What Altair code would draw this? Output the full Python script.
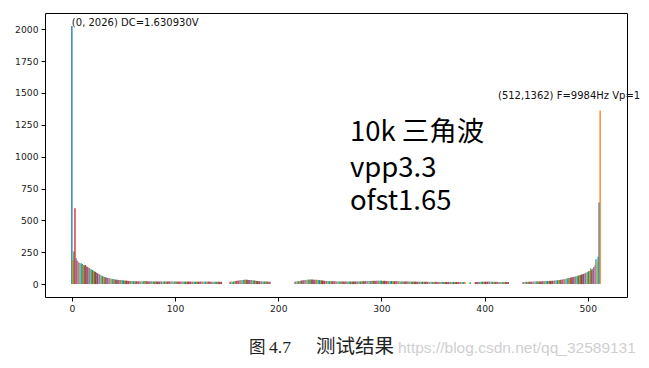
import altair as alt
import pandas as pd

TAB10 = ["#1f77b4", "#ff7f0e", "#2ca02c", "#d62728", "#9467bd",
         "#8c564b", "#e377c2", "#7f7f7f", "#bcbd22", "#17becf"]

# ---- spectrum values (bin index segments; gaps are bins not drawn) ----
seg_a_start = 0
seg_a = [2026, 190, 255, 595, 205, 185, 175, 168, 160, 165,
         158, 150, 148, 150, 140, 135, 130, 126, 120, 115,
         110, 104, 100, 95, 88, 84, 80, 75, 70, 66,
         62, 58, 55, 52, 50, 48, 46, 44, 42, 40,
         39, 37, 36, 35, 34, 33, 32, 32, 31, 30,
         29, 28, 27, 27, 26, 25, 25, 24, 24, 23,
         23, 22, 22, 23, 21, 22, 21, 20, 22, 21,
         24, 22, 25, 21, 22, 20, 21, 23, 20, 21,
         20, 22, 21, 19, 21, 20, 22, 20, 19, 21,
         20, 21, 19, 20, 22, 20, 19, 21, 20, 19,
         21, 20, 19, 20, 18, 20, 21, 19, 20, 19,
         20, 18, 19, 21, 19, 20, 18, 19, 20, 18,
         19, 20, 18, 19, 18, 20, 19, 18, 19, 20,
         18, 19, 18, 20, 19, 18, 19, 17, 18, 19,
         18, 17, 19, 18, 17, 18]

seg_b_start = 153
seg_b = [18, 19, 20, 19, 21, 22, 24, 26, 27, 29,
         30, 31, 32, 33, 34, 35, 34, 35, 33, 32,
         31, 32, 30, 29, 28, 27, 25, 24, 23, 22,
         22, 21, 21, 20, 20, 19, 20, 19, 18, 19]

seg_c_start = 216
seg_c = [19, 20, 21, 22, 23, 25, 26, 28, 30, 31,
         32, 33, 35, 34, 36, 35, 37, 36, 35, 34,
         35, 33, 34, 32, 31, 30, 29, 28, 27, 26,
         25, 25, 24, 24, 23, 23, 22, 22, 21, 22,
         21, 21, 20, 21, 20, 20, 21, 20, 19, 20,
         20, 19, 20, 21, 20, 19, 20, 20, 21, 20,
         21, 20, 21, 22, 21, 22, 23, 22, 23, 24,
         23, 24, 25, 24, 25, 26, 25, 26, 25, 26,
         27, 26, 27, 26, 27, 26, 25, 26, 25, 24,
         25, 24, 24, 23, 24, 23, 22, 23, 22, 22,
         21, 22, 21, 21, 20, 21, 20, 20, 21, 20,
         20, 19, 20, 19, 20, 19, 19, 20, 19, 18,
         19, 18, 19, 18, 19, 18, 18, 19, 18, 17,
         18, 17, 18, 18, 17, 18, 17, 18, 17, 17,
         18, 17, 17, 18, 17, 16, 17, 17, 16, 17,
         17, 16, 17, 16, 17, 16, 16, 17, 16, 16,
         17, 16, 16, 17, 16, 16]

seg_d_start = 386
seg_d = [15]

seg_e_start = 391
seg_e = [16, 17, 16, 18, 17, 18, 19, 18, 19, 18,
         19, 18, 19, 20, 19, 18, 19, 18, 17, 18,
         17, 18, 17, 16, 17, 16, 17, 16, 16, 17,
         16, 15, 16]

seg_f_start = 437
seg_f = [16, 17, 17, 18, 17, 18, 18, 19, 18, 19,
         19, 20, 19, 20, 20, 21, 20, 21, 21, 22,
         22, 22, 23, 23, 24, 24, 25, 25, 26, 27,
         27, 28, 29, 30, 31, 32, 33, 34, 35, 37,
         38, 40, 41, 43, 45, 47, 49, 51, 53, 55,
         57, 60, 62, 64, 67, 69, 72, 75, 78, 80,
         84, 88, 92, 96, 100, 104, 122, 108, 120, 135,
         150, 195, 175, 215, 640, 1362]

x_ticks = [0, 100, 200, 300, 400, 500]
y_ticks = [0, 250, 500, 750, 1000, 1250, 1500, 1750, 2000]

ann_texts = ["(0, 2026) DC=1.630930V", "(512,1362) F=9984Hz Vp=1"]
ann_x = [0, 413]
ann_y = [2026, 1452]

big_lines = ["10k 三角波", "vpp3.3", "ofst1.65"]
big_x = [269.5, 269.5, 269.5]
big_y = [1123, 840, 581]

caption_parts = ["图", "4.7", "测试结果"]
watermark = "https://blog.csdn.net/qq_32589131"

# ---- build table ----
segments = [(seg_a_start, seg_a), (seg_b_start, seg_b), (seg_c_start, seg_c),
            (seg_d_start, seg_d), (seg_e_start, seg_e), (seg_f_start, seg_f)]
rows = []
order = 0
for start, vals in segments:
    for k, v in enumerate(vals):
        rows.append({"idx": start + k, "val": v, "color": TAB10[order % 10]})
        order += 1
bars_df = pd.DataFrame(rows)

x_scale = alt.Scale(domain=[-26.04, 538.04], nice=False, zero=False)
y_scale = alt.Scale(domain=[-101.3, 2127.3], nice=False, zero=False)
x_axis = alt.Axis(values=x_ticks, title=None, grid=False, format="d")
y_axis = alt.Axis(values=y_ticks, title=None, grid=False, format="d")

bars = alt.Chart(bars_df).transform_calculate(
    x0="datum.idx - 0.65", x1="datum.idx + 0.65"
).mark_rect(strokeWidth=0).encode(
    x=alt.X("x0:Q", scale=x_scale, axis=x_axis),
    x2="x1:Q",
    y=alt.Y("val:Q", scale=y_scale, axis=y_axis),
    y2=alt.datum(0),
    color=alt.Color("color:N", scale=None),
)

ann_df = pd.DataFrame({"x": ann_x, "y": ann_y, "t": ann_texts})
ann = alt.Chart(ann_df).mark_text(
    align="left", baseline="alphabetic", font="DejaVu Sans", fontSize=10, color="#111"
).encode(
    x=alt.X("x:Q", scale=x_scale, axis=x_axis),
    y=alt.Y("y:Q", scale=y_scale, axis=y_axis),
    text="t:N",
)

big_df = pd.DataFrame({"x": big_x, "y": big_y, "t": big_lines})
big = alt.Chart(big_df).mark_text(
    align="left", baseline="alphabetic", font="Noto Sans CJK SC", fontSize=27.5, color="#000"
).encode(
    x=alt.X("x:Q", scale=x_scale, axis=x_axis),
    y=alt.Y("y:Q", scale=y_scale, axis=y_axis),
    text="t:N",
)

def label(txt, px, size, font, color):
    return alt.Chart(pd.DataFrame({"t": [txt]})).mark_text(
        align="left", baseline="alphabetic", font=font, fontSize=size, color=color
    ).encode(x=alt.value(px), y=alt.value(340), text="t:N")

cap1 = label(caption_parts[0], 204, 16.5, "Liberation Serif, Noto Sans CJK SC", "#222")
cap2 = label(caption_parts[1], 224, 17.5, "Liberation Serif", "#222")
cap3 = label(caption_parts[2], 271, 19.5, "Liberation Serif, Noto Sans CJK SC", "#222")
wm = label(watermark, 353, 15.5, "Liberation Sans", "#cfcfcf")

chart = alt.layer(bars, ann, big, cap1, cap2, cap3, wm).properties(
    width=582, height=284,
    autosize=alt.AutoSizeParams(type="none"),
    padding={"left": 37, "top": 5, "right": 14, "bottom": 62},
).configure_view(
    stroke="#000", strokeWidth=1
).configure_axis(
    domain=False, ticks=True, tickColor="#000", tickSize=4, tickWidth=1,
    labelFont="DejaVu Sans", labelFontSize=9.2, labelColor="#222", labelPadding=3,
)

chart.save("out.html", embed_options={"renderer": "svg", "actions": False})
